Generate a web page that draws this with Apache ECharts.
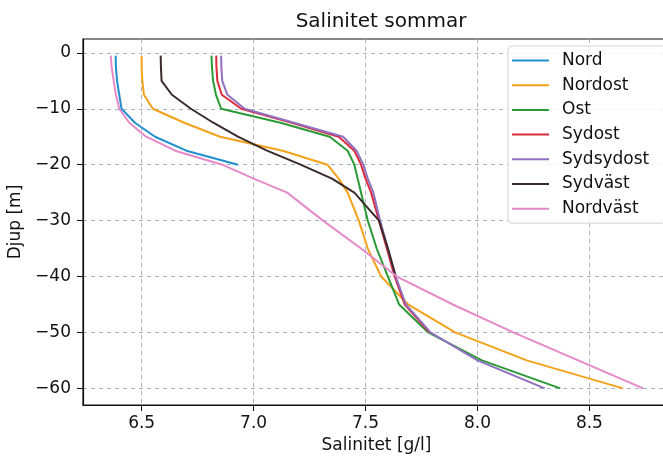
<!DOCTYPE html>
<html><head><meta charset="utf-8">
<script src="https://cdn.jsdelivr.net/npm/echarts@6/dist/echarts.min.js"></script>
<style>html,body{margin:0;padding:0;background:#fff}#c{width:663px;height:457px}</style>
</head><body><div id="c"></div>
<script>
const depths = [-0.5, -2.5, -5, -7.5, -10, -12.5, -15, -17.5, -20, -22.5, -25, -30, -35, -40, -45, -50, -55, -60];
const nord      = [6.384, 6.385, 6.39, 6.40, 6.41, 6.47, 6.56, 6.70, 6.93];
const nordost   = [6.50, 6.50, 6.503, 6.51, 6.55, 6.69, 6.85, 7.13, 7.33, 7.38, 7.42, 7.47, 7.51, 7.57, 7.69, 7.90, 8.22, 8.65];
const ost       = [6.812, 6.814, 6.819, 6.832, 6.855, 7.12, 7.34, 7.42, 7.45, 7.465, 7.48, 7.51, 7.55, 7.60, 7.65, 7.78, 8.02, 8.37];
const sydost    = [6.833, 6.834, 6.838, 6.858, 6.945, 7.17, 7.38, 7.45, 7.48, 7.50, 7.525, 7.56, 7.595, 7.63, 7.675, 7.785];
const sydsydost = [6.855, 6.856, 6.86, 6.883, 6.96, 7.18, 7.40, 7.46, 7.49, 7.51, 7.535, 7.565, 7.60, 7.635, 7.68, 7.79, 8.00, 8.30];
const sydvast   = [6.585, 6.586, 6.589, 6.635, 6.72, 6.82, 6.93, 7.06, 7.21, 7.35, 7.45, 7.56, 7.60, 7.635];
const nordvast  = [6.362, 6.366, 6.375, 6.385, 6.40, 6.445, 6.52, 6.65, 6.86, 7.00, 7.15, 7.31, 7.48, 7.64, 7.89, 8.16, 8.45, 8.74];

const seriesNames = ['Nord', 'Nordost', 'Ost', 'Sydost', 'Sydsydost', 'Sydväst', 'Nordväst'];
const seriesValues = [nord, nordost, ost, sydost, sydsydost, sydvast, nordvast];
const colors = ['#1f8fd0', '#f5a21a', '#2a9a36', '#dc2a3a', '#9070c0', '#3a2a2a', '#e58ac8'];

const xTicks = [6.5, 7.0, 7.5, 8.0, 8.5];
const yTicks = [0, -10, -20, -30, -40, -50, -60];

const font = 'DejaVu Sans';
const chart = echarts.init(document.getElementById('c'));
const option = {
  animation: false,
  title: {
    text: 'Salinitet sommar', left: 376, top: 7, textAlign: 'center',
    textStyle: { fontFamily: font, fontSize: 20, fontWeight: 'normal', color: '#111' }
  },
  grid: { left: 83, top: 39, width: 587, height: 366, show: true, borderColor: '#111', borderWidth: 1.2,
          containLabel: false, outerBoundsMode: 'none' },
  legend: {
    orient: 'vertical', left: 508, top: 46,
    data: seriesNames,
    icon: 'rect', itemWidth: 37, itemHeight: 2, itemGap: 7.7,
    padding: [6, 24, 6, 4],
    backgroundColor: 'rgba(255,255,255,0.85)', borderColor: '#d4d4d4', borderWidth: 1, borderRadius: 4,
    textStyle: { fontFamily: font, fontSize: 17, lineHeight: 17, color: '#111', padding: [0, 0, 0, 8] }
  },
  xAxis: {
    type: 'value', min: 6.238, max: 8.86,
    name: 'Salinitet [g/l]', nameLocation: 'middle', nameGap: 31,
    nameTextStyle: { fontFamily: font, fontSize: 17, color: '#111', verticalAlign: 'top' },
    axisLine: { show: true, onZero: false, lineStyle: { color: '#111', width: 1.2 } },
    axisTick: { show: true, length: 6, lineStyle: { color: '#111' }, customValues: xTicks },
    axisLabel: { customValues: xTicks, formatter: v => v.toFixed(1), margin: 10, fontFamily: font, fontSize: 17, color: '#111' },
    splitLine: { show: true, lineStyle: { type: [4, 4], color: '#aab4c6', width: 1 } }
  },
  yAxis: {
    type: 'value', min: -62.975, max: 2.475,
    name: 'Djup [m]', nameLocation: 'middle', nameGap: 54,
    nameTextStyle: { fontFamily: font, fontSize: 17, color: '#111' },
    axisLine: { show: true, onZero: false, lineStyle: { color: '#111', width: 1.2 } },
    axisTick: { show: true, length: 6, lineStyle: { color: '#111' }, customValues: yTicks },
    axisLabel: { customValues: yTicks, formatter: v => String(v).replace('-', '\u2212'), margin: 12, fontFamily: font, fontSize: 17, color: '#111' },
    splitLine: { show: true, lineStyle: { type: [4, 4], color: '#aab4c6', width: 1 } }
  },
  series: seriesNames.map((n, i) => ({
    name: n, type: 'line', showSymbol: false, symbol: 'none',
    color: colors[i],
    lineStyle: { width: 2, color: colors[i] },
    data: seriesValues[i].map((v, j) => [v, depths[j]])
  }))
};
chart.setOption(option);
</script></body></html>
